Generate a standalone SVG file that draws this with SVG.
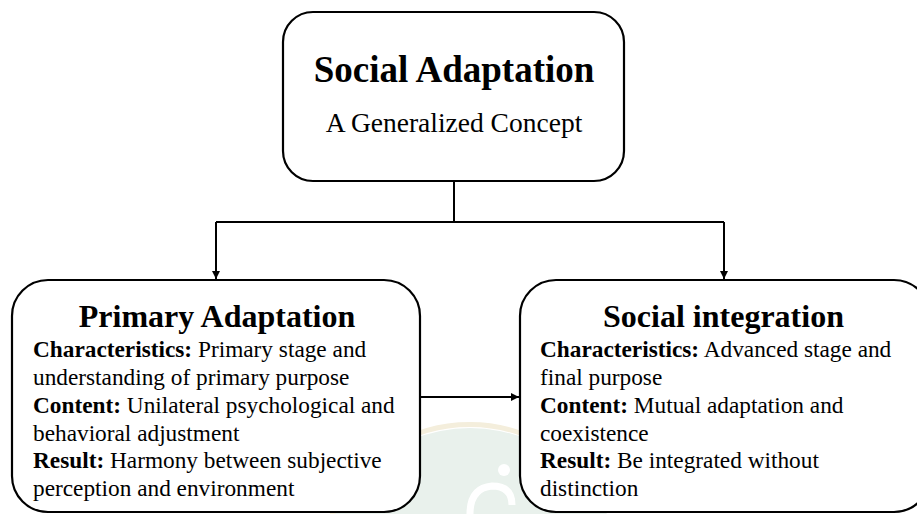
<svg xmlns="http://www.w3.org/2000/svg" width="917" height="514" viewBox="0 0 917 514">
<defs>
<style>
.box{fill:#ffffff;stroke:#000;stroke-width:2.2}
.ln{fill:none;stroke:#000;stroke-width:2}
.t{font-family:"Liberation Serif","Times New Roman",serif;fill:#000}
.h{font-weight:bold}
.b{font-size:23.3px}
</style>
<marker id="ah" viewBox="0 0 10 10" refX="10" refY="5" markerWidth="4" markerHeight="4" orient="auto" markerUnits="strokeWidth">
<path d="M0,0 L10,5 L0,10 z" fill="#000"/>
</marker>
</defs>
<rect width="917" height="514" fill="#ffffff"/>
<g id="watermark">
<circle cx="470" cy="580" r="152" fill="#e9f1ec"/>
<path d="M330,520 A150,150 0 0 1 600,500" fill="none" stroke="#f4eedc" stroke-width="5"/>
<circle cx="504" cy="470" r="6" fill="#ffffff"/>
<path d="M470,514 Q470,488 492,486 Q512,486 512,505" fill="none" stroke="#ffffff" stroke-width="7"/>
</g>
<g id="connectors">
<path class="ln" d="M454,181 V222"/>
<path class="ln" d="M216,222 H724"/>
<path class="ln" d="M216,222 V279" marker-end="url(#ah)"/>
<path class="ln" d="M724,222 V279" marker-end="url(#ah)"/>
<path class="ln" d="M420,397 H519" marker-end="url(#ah)"/>
</g>
<g id="social-adaptation">
<rect class="box" x="283" y="12" width="341" height="169" rx="30"/>
<text class="t h" x="454" y="82" font-size="37" text-anchor="middle">Social Adaptation</text>
<text class="t" x="454" y="132" font-size="27.5" text-anchor="middle">A Generalized Concept</text>
</g>
<g id="primary-adaptation">
<rect class="box" x="12" y="280" width="408" height="232" rx="36"/>
<text class="t h" x="217" y="327" font-size="32" text-anchor="middle">Primary Adaptation</text>
<text class="t b" x="33" y="357"><tspan class="h">Characteristics:</tspan> Primary stage and</text>
<text class="t b" x="33" y="385">understanding of primary purpose</text>
<text class="t b" x="33" y="413"><tspan class="h">Content:</tspan> Unilateral psychological and</text>
<text class="t b" x="33" y="441">behavioral adjustment</text>
<text class="t b" x="33" y="468"><tspan class="h">Result:</tspan> Harmony between subjective</text>
<text class="t b" x="33" y="496">perception and environment</text>
</g>
<g id="social-integration">
<rect class="box" x="520" y="280" width="410" height="232" rx="36"/>
<text class="t h" x="723.5" y="327" font-size="32" text-anchor="middle">Social integration</text>
<text class="t b" x="540" y="357"><tspan class="h">Characteristics:</tspan> Advanced stage and</text>
<text class="t b" x="540" y="385">final purpose</text>
<text class="t b" x="540" y="413"><tspan class="h">Content:</tspan> Mutual adaptation and</text>
<text class="t b" x="540" y="441">coexistence</text>
<text class="t b" x="540" y="468"><tspan class="h">Result:</tspan> Be integrated without</text>
<text class="t b" x="540" y="496">distinction</text>
</g>
</svg>
